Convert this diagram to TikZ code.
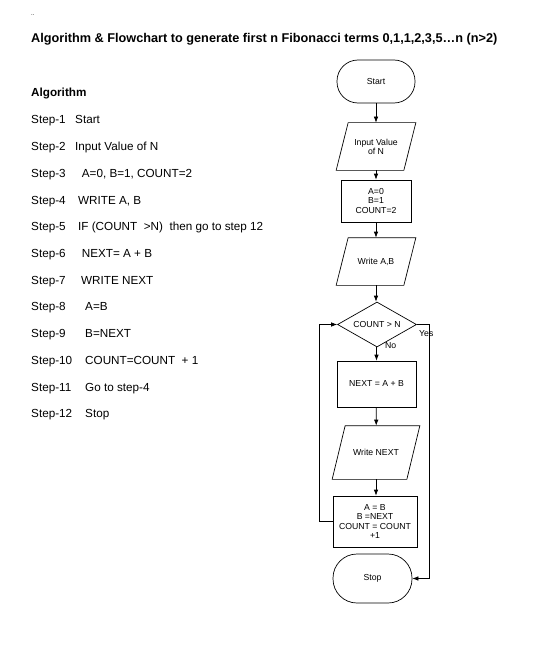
\documentclass[tikz,border=0pt]{standalone}
\usepackage{fontspec}
\setmainfont{Liberation Sans}
\usetikzlibrary{shapes.geometric,arrows.meta,calc}
\begin{document}
\begin{tikzpicture}[x=1pt,y=1pt,
  txt/.style={anchor=base west,inner sep=0pt,font=\fontsize{11.7}{14}\selectfont},
  fc/.style={draw=black,line width=0.7pt,font=\fontsize{8.7}{9.2}\selectfont,align=center,inner sep=0pt},
  term/.style={fc,rectangle,rounded corners=21pt,minimum width=78pt,minimum height=43pt},
  io/.style={fc,draw=none,rectangle,minimum width=79pt,minimum height=47pt},
  proc/.style={fc,rectangle},
  dec/.style={fc,diamond,aspect=1.76,minimum width=79pt,minimum height=45pt},
  arr/.style={line width=0.7pt,-{Latex[length=6pt,width=4.5pt]}},
  paraline/.style={line width=0.7pt,draw=black},
  lbl/.style={anchor=base west,inner sep=0pt,font=\fontsize{8.7}{9.2}\selectfont}
]
\useasboundingbox (0,0) rectangle (543,-658);
\fill[white] (0,0) rectangle (543,-658);

\node[anchor=base west,inner sep=0pt,font=\fontsize{6}{7}\selectfont] (dots) at (31,-16) {..};
\node[anchor=base west,inner sep=0pt,font=\bfseries\fontsize{12.7}{15}\selectfont] (title) at (31,-43)
  {Algorithm \& Flowchart to generate first n Fibonacci terms 0,1,1,2,3,5…n (n>2)};

\node[txt,font=\bfseries\fontsize{11.7}{14}\selectfont] (alg) at (31,-97) {Algorithm};

\node[txt] (s1) at (31,-124) {Step-1};   \node[txt] (t1) at (75,-124) {Start};
\node[txt] (s2) at (31,-150.7) {Step-2}; \node[txt] (t2) at (75,-150.7) {Input Value of N};
\node[txt] (s3) at (31,-177.4) {Step-3}; \node[txt] (t3) at (81.7,-177.4) {A=0, B=1, COUNT=2};
\node[txt] (s4) at (31,-204.1) {Step-4}; \node[txt] (t4) at (78,-204.1) {WRITE A, B};
\node[txt] (s5) at (31,-230.8) {Step-5}; \node[txt] (t5) at (78,-230.8) {IF (COUNT\ \ >N)\ \ then go to step 12};
\node[txt] (s6) at (31,-257.5) {Step-6}; \node[txt] (t6) at (81.7,-257.5) {NEXT= A + B};
\node[txt] (s7) at (31,-284.2) {Step-7}; \node[txt] (t7) at (81,-284.2) {WRITE NEXT};
\node[txt] (s8) at (31,-310.9) {Step-8}; \node[txt] (t8) at (85,-310.9) {A=B};
\node[txt] (s9) at (31,-337.6) {Step-9}; \node[txt] (t9) at (85,-337.6) {B=NEXT};
\node[txt] (s10) at (31,-364.3) {Step-10}; \node[txt] (t10) at (85,-364.3) {COUNT=COUNT\ \ + 1};
\node[txt] (s11) at (31,-391) {Step-11}; \node[txt] (t11) at (85,-391) {Go to step-4};
\node[txt] (s12) at (31,-417.7) {Step-12}; \node[txt] (t12) at (85,-417.7) {Stop};

% flowchart
\node[term] (start) at (376,-81.5) {Start};
\node[io] (in) at (376,-146.5) {Input Value\\of N};
\node[proc,minimum width=70pt,minimum height=42pt] (init) at (376,-201) {A=0\\B=1\\COUNT=2};
\node[io] (wab) at (376,-261.5) {Write A,B};
\node[dec] (cond) at (377,-324.5) {COUNT > N};
\node[proc,minimum width=79pt,minimum height=46pt] (next) at (376.5,-384) {NEXT = A + B};
\node[io,minimum width=87pt,minimum height=53pt] (wn) at (376,-452.5) {Write NEXT};
\node[proc,minimum width=84pt,minimum height=51pt] (upd) at (375,-521.5) {A = B\\B =NEXT\\COUNT = COUNT\\+1};
\node[term,minimum width=79pt,minimum height=49pt,rounded corners=24pt] (stop) at (372.5,-578.5) {Stop};

% parallelogram outlines
\foreach \n/\s in {in/12,wab/12,wn/13}{
  \draw[paraline] ($(\n.north west)+(\s,0)$) -- (\n.north east)
     -- ($(\n.south east)-(\s,0)$) -- (\n.south west) -- cycle;
}

\coordinate (yesx) at (429,0);
\coordinate (loopx) at (319,0);

\draw[arr] (start) -- (in);
\draw[arr] (in) -- (init);
\draw[arr] (init) -- (wab);
\draw[arr] (wab.south) -- (wab.south |- cond.north);
\draw[arr] (cond.south -| next.north) -- (next.north);
\draw[arr] (next) -- (wn);
\draw[arr] (wn.south) -- (wn.south |- upd.north);
\draw[arr] (cond.east) -- (cond.east -| yesx) |- (stop.east);
\draw[arr] (upd.west) -- (upd.west -| loopx) |- (cond.west);

\node[lbl] (yes) at (419,-336.7) {Yes};
\node[lbl] (no) at (385,-348) {No};
\end{tikzpicture}
\end{document}
